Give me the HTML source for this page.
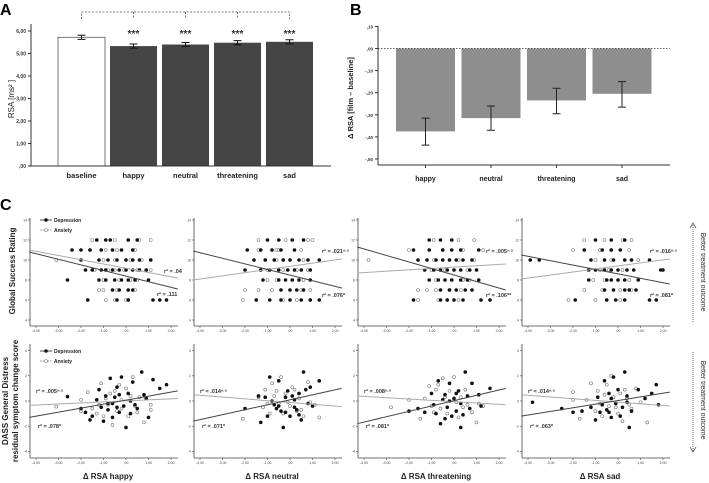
<!DOCTYPE html>
<html><head><meta charset="utf-8"><style>
body{margin:0;background:#fff}
svg{display:block;font-family:"Liberation Sans",Arial,sans-serif}
</style></head><body>
<svg id="fig" width="709" height="483" viewBox="0 0 709 483" xmlns="http://www.w3.org/2000/svg">
<g id="pa"></g>
<g id="pb"></g>
<g id="pc"></g>
</svg>
<script>
// Panel A data
const aCats=["baseline","happy","neutral","threatening","sad"];
const aVals=[5.72,5.33,5.40,5.48,5.52];
const aErr=[0.09,0.09,0.09,0.09,0.09];
const aTicks=[0,1,2,3,4,5,6];
const aTickLabels=[",00","1,00","2,00","3,00","4,00","5,00","6,00"];
// Panel B data
const bCats=["happy","neutral","threatening","sad"];
const bVals=[-0.375,-0.315,-0.235,-0.205];
const bErrLo=[-0.437,-0.37,-0.295,-0.265];
const bErrHi=[-0.315,-0.26,-0.18,-0.15];
const bTicks=[0.1,0,-0.1,-0.2,-0.3,-0.4,-0.5];
const bTickLabels=[",10",",00","-,10","-,20","-,30","-,40","-,50"];
// Panel C data
const cNames=["happy","neutral","threatening","sad"];
const cXTicks=[-4,-3,-2,-1,0,1,2];
const cXTickLabels=["-4,00","-3,00","-2,00","-1,00",",00","1,00","2,00"];
const topYTicks=[4,6,8,10,12,14];
const botYTicks=[-4,-2,0,2,4];
const topDep=[
 [[12,[-0.9,-0.7,-1.3,0.1,0.5]],[11,[-2.4,-2.0,-1.6,-1.1,-0.6,-0.2,0.3]],[10,[-2.0,-1.2,-0.8,-0.4,0,0.3,0.6,1.1]],[9,[-1.8,-1.5,-1.1,-0.9,-0.6,-0.3,0,0.3,0.6,0.9]],[8,[-2.6,-1.2,-0.9,-0.5,-0.2,0.1,0.4,1.0]],[7,[-0.6,-0.3,0.1,0.3]],[6,[-1.7,-0.4,0.1,1.2,1.5,1.8]]],
 [[12,[-1.0,-0.5,0.1,0.6]],[11,[-1.9,-1.3,-0.8,-0.4,0.2]],[10,[-1.6,-1.1,-0.7,-0.3,0,0.4,0.8,1.3]],[9,[-2.0,-1.3,-0.9,-0.5,-0.1,0.2,0.5,0.9]],[8,[-1.2,-0.5,-0.2,0.1,0.4,0.9]],[7,[-0.4,0,0.3,0.6]],[6,[-1.5,-0.9,-0.4,0,0.5,0.9,1.3]]],
 [[12,[-1.1,-0.6,-0.1]],[11,[-1.8,-1.1,-0.5,-0.1,0.3,1.1]],[10,[-1.6,-1.2,-0.8,-0.5,-0.2,0.1,0.4,0.8]],[9,[-1.3,-0.9,-0.6,-0.3,0,0.3,0.7,1.0]],[8,[-1.1,-0.7,-0.4,-0.1,0.3,0.6,1.1]],[7,[-0.6,-0.2,0.1,0.5,0.8]],[6,[-1.8,-0.6,-0.3,0,0.4,1.2,1.6]]],
 [[12,[-1.0,-0.3,0.3]],[11,[-1.5,-0.7,-0.3,0.1]],[10,[-3.9,-3.5,-1.2,-0.6,-0.2,0.3,0.6,1.4]],[9,[-1.3,-1.0,-0.6,-0.3,0,0.4,0.7,1.9,2.0]],[8,[-1.3,-0.5,-0.3,0,0.3,0.9]],[7,[-0.6,-0.2,0.3,0.5,0.8]],[6,[-1.9,-0.5,-0.1,0.3,1.4,1.7]]]
];
const topAnx=[
 [[12,[-1.5,-0.5,0.6,1.1]],[11,[-1.6,-0.9,-0.4,0.4]],[10,[-3.1,-1.0,-0.5,0.2,0.7,1.1]],[9,[-1.4,-0.8,-0.5,-0.1,0.5,1.1]],[8,[-1.0,-0.3,0.2,0.5]],[7,[-1.2,-1.0,-0.4,0.4]],[6,[-0.9,-0.5,0.0]]],
 [[12,[-1.4,-0.2,0.8,1.0]],[11,[-1.4,-0.6,-0.5,0.5]],[10,[-1.1,-0.6,-0.3,0.6]],[9,[-1.0,-0.3,0.3,0.8]],[8,[-1.0,-0.6,0.6]],[7,[-2.0,-1.4,-0.8,0.5,0.9]],[6,[-2.1,-0.3,0.3,0.9]]],
 [[12,[-0.9,0.2,0.9]],[11,[-2.0,-0.5,0.4,1.3]],[10,[-3.8,-0.9,0.2,0.9]],[9,[-1.0,-0.4,0.6]],[8,[-0.8,0.4,0.7]],[7,[-1.6,-1.2,-0.8,-0.2,0.3]],[6,[-1.6,-0.7,-0.3,0.2]]],
 [[12,[-1.5,-0.6,0.2,0.6]],[11,[-2.0,-0.8,-0.3,0.5]],[10,[-1.0,-0.3,0.6,0.9]],[9,[-0.8,-0.4,0.2]],[8,[-1.1,-0.6,0.5]],[7,[-1.5,-0.7,0.1,0.6]],[6,[-2.2,-1.0,-0.5,0.1]]]
];
const botDep=[
 [[-2.6,0.35],[-2.0,-0.6],[-1.8,-0.9],[-1.6,-1.5],[-1.5,-1.2],[-1.1,-0.5],[-1.0,-1.6],[-0.9,0.4],[-0.8,-0.7],[-0.7,1.8],[-0.6,-0.2],[-0.5,0.3],[-0.4,1.1],[-0.3,-0.9],[-0.2,1.9],[-0.1,-0.4],[0,-2.1],[0.1,0.6],[0.2,-1.0],[0.3,1.5],[0.4,-0.3],[0.7,2.3],[0.9,0.2],[1.0,-1.3],[1.2,1.7],[1.5,1.0],[1.8,1.3],[-1.2,0.9],[-0.8,-0.2],[-0.3,0.5],[0.2,0.0],[0.5,-0.6],[-0.6,-1.3],[-1.3,0.1],[0.8,0.5],[-0.4,-0.5]],
 [[-2.0,-0.6],[-1.3,-1.7],[-1.0,-1.2],[-0.9,1.9],[-0.7,-0.3],[-0.5,1.6],[-0.4,-0.8],[-0.3,-2.1],[-0.2,0.3],[0,-1.2],[0.1,0.4],[0.3,-0.7],[0.4,-1.1],[0.5,-1.5],[0.6,2.3],[0.7,0.9],[0.9,1.1],[1.0,-0.4],[1.3,1.6],[-1.4,0.4],[-0.8,0.0],[-0.6,-0.6],[-0.1,0.8],[0.2,0.1],[0.4,0.6],[0.8,-0.2],[-0.5,-0.4],[-1.1,0.3],[0.2,-0.5],[-0.2,-0.9]],
 [[-2.0,-0.8],[-1.6,-0.6],[-1.3,-0.9],[-1.0,0.6],[-0.8,-1.0],[-0.7,1.6],[-0.6,-1.8],[-0.4,0.5],[-0.3,-0.5],[-0.2,1.4],[-0.1,-1.2],[0,0.2],[0.1,-0.8],[0.2,0.8],[0.3,-2.1],[0.4,-1.1],[0.5,2.3],[0.6,0.4],[0.8,1.4],[1.1,0.5],[1.2,-0.4],[1.6,1.0],[-0.9,-0.3],[-0.5,0.1],[0.1,0.6],[0.3,-0.2],[-0.4,-1.4],[0.7,-0.6],[-0.2,0.0]],
 [[-3.8,-0.1],[-2.5,-0.6],[-2.0,-0.9],[-1.6,-0.8],[-1.2,-0.5],[-1.0,-1.5],[-0.8,-0.9],[-0.6,1.6],[-0.5,-0.7],[-0.4,0.6],[-0.3,-1.3],[-0.2,1.9],[-0.1,-0.2],[0,0.9],[0.1,-1.2],[0.3,2.3],[0.4,0.4],[0.5,-2.1],[0.6,-0.8],[0.9,0.9],[1.2,0.2],[1.5,0.6],[1.7,1.3],[1.8,-0.3],[-0.7,-0.3],[-0.3,0.2],[0.2,-0.5],[-0.9,0.3],[0.4,-0.1],[-0.4,-0.9]]
];
const botAnx=[
 [[-3.1,-0.45],[-2.0,0.1],[-2.0,-0.8],[-1.7,0.7],[-1.2,-0.3],[-1.1,1.4],[-1.0,-1.2],[-0.9,0.2],[-0.8,-0.3],[-0.6,-1.9],[-0.5,0.8],[-0.3,1.3],[-0.2,-0.6],[0,1.0],[0.1,-1.2],[0.3,1.9],[0.4,-0.4],[0.6,0.3],[0.8,-1.7],[1.1,-0.3],[1.1,-0.7],[-1.5,-0.6],[-0.7,0.6],[-0.4,-0.8],[0.2,0.4],[-1.3,-1.0],[0.5,-0.9],[-0.2,0.1]],
 [[-2.1,-1.4],[-1.4,0.3],[-1.2,-0.5],[-1.1,0.9],[-0.9,-1.0],[-0.8,1.4],[-0.6,0.8],[-0.5,-0.2],[-0.4,1.9],[-0.3,-1.0],[-0.2,0.6],[0,-0.4],[0.1,1.1],[0.3,-0.8],[0.4,0.2],[0.6,-1.2],[0.8,1.5],[0.9,-0.1],[1.1,-0.3],[1.3,-1.3],[-0.7,0.4],[-0.1,-0.1],[0.5,-0.7],[-1.0,-0.2],[0.2,0.9]],
 [[-2.8,-0.5],[-2.0,0.1],[-1.5,-1.4],[-1.3,0.2],[-1.1,1.2],[-1.0,-0.4],[-0.8,0.9],[-0.6,-0.6],[-0.5,1.8],[-0.3,-1.0],[-0.2,0.8],[0,1.9],[0.1,-0.1],[0.2,-1.3],[0.3,0.3],[0.5,0.9],[0.6,-0.3],[0.8,-0.9],[1.0,-1.7],[1.1,-0.2],[1.3,-0.4],[-0.9,-0.9],[-0.4,0.3],[0.4,-0.5],[-0.7,1.3]],
 [[-2.0,0.7],[-2.0,0.1],[-1.7,-1.4],[-1.4,0.1],[-1.2,1.4],[-1.0,-0.8],[-0.9,0.8],[-0.7,-1.2],[-0.5,1.3],[-0.4,-0.4],[-0.3,2.0],[-0.2,0.3],[0,-1.0],[0.1,0.6],[0.2,-1.6],[0.4,0.2],[0.6,-0.6],[0.8,1.0],[1.0,-0.1],[1.3,-1.7],[-0.6,0.5],[-0.1,-0.5],[0.3,0.9],[-0.8,-0.2],[0.5,-0.3]]
];
const topDepLine=[[10.8,7.1],[10.9,7.2],[11.3,7.0],[10.5,7.6]];
const topAnxLine=[[11.0,8.2],[8.0,10.1],[8.7,9.6],[8.1,10.1]];
const botDepLine=[[-1.3,0.8],[-1.6,1.0],[-1.8,1.0],[-1.2,0.7]];
const botAnxLine=[[-0.35,0.2],[0.5,-0.45],[0.4,-0.3],[0.5,-0.4]];
const topR2=[["r² = .04","r² = .111"],["r² = .021ⁿ·ˢ","r² = .076*"],["r² = .005ⁿ·ˢ","r² = .106**"],["r² = .016ⁿ·ˢ","r² = .081*"]];
const botR2=[["r² = .005ⁿ·ˢ","r² = .078*"],["r² = .014ⁿ·ˢ","r² = .071*"],["r² = .008ⁿ·ˢ","r² = .081*"],["r² = .014ⁿ·ˢ","r² = .063*"]];

const NS="http://www.w3.org/2000/svg";
function mk(parent,tag,attrs,txt){const e=document.createElementNS(NS,tag);for(const k in attrs)e.setAttribute(k,attrs[k]);if(txt!==undefined)e.textContent=txt;parent.appendChild(e);return e;}

const pa=document.getElementById('pa');
const aY=v=>166-v*22.5;
let t=mk(pa,'text',{x:0,y:15,'font-size':16,'font-weight':'bold'},'A');

aTicks.forEach((v,i)=>{mk(pa,'line',{x1:28,x2:31,y1:aY(v),y2:aY(v),stroke:'#333'});
 const l=mk(pa,'text',{x:26,y:aY(v)+2,'font-size':5,'text-anchor':'end','font-weight':'bold',fill:'#333'},aTickLabels[i]);
 });
t=mk(pa,'text',{transform:'translate(14,99) rotate(-90)','font-size':8,'text-anchor':'middle',fill:'#222'},'RSA [ms² ]');

const aX0=58,aStep=52,aW=47;
aCats.forEach((c,i)=>{const x=aX0+i*aStep;
 const r=mk(pa,'rect',{x:x,y:aY(aVals[i]),width:aW,height:aY(0)-aY(aVals[i]),fill:i==0?'#fff':'#454545',stroke:i==0?'#555':'none','stroke-width':0.8});
 
 const cx=x+aW/2,hi=aY(aVals[i]+aErr[i]),lo=aY(aVals[i]-aErr[i]);
 const eg=mk(pa,'path',{d:`M${cx-4},${hi}H${cx+4}M${cx},${hi}V${lo}M${cx-4},${lo}H${cx+4}`,stroke:'#111','stroke-width':1,fill:'none'});
 
 const l=mk(pa,'text',{x:cx,y:178,'font-size':7.5,'font-weight':'bold','text-anchor':'middle',fill:'#222'},c);
 
 if(i>0){const s=mk(pa,'text',{x:cx,y:37,'font-size':10,'font-weight':'bold','text-anchor':'middle',fill:'#333'},'***');
  }
});
mk(pa,'line',{x1:31,x2:31,y1:24,y2:166,stroke:'#333','stroke-width':1});
mk(pa,'line',{x1:31,x2:331,y1:166,y2:166,stroke:'#333','stroke-width':1});
let bd='M'+(aX0+aW/2)+',19V12H'+(aX0+4*aStep+aW/2)+'V19';
for(let i=1;i<4;i++){const cx=aX0+i*aStep+aW/2;bd+=`M${cx},12V19`;}
t=mk(pa,'path',{d:bd,stroke:'#555','stroke-dasharray':'2,1.5',fill:'none','stroke-width':0.8});


const pb=document.getElementById('pb');
const bY=v=>48.5-v*221;
t=mk(pb,'text',{x:350,y:15,'font-size':16,'font-weight':'bold'},'B');

bTicks.forEach((v,i)=>{mk(pb,'line',{x1:375,x2:378,y1:bY(v),y2:bY(v),stroke:'#333'});
 const l=mk(pb,'text',{x:373,y:bY(v)+2,'font-size':4.5,'text-anchor':'end','font-weight':'bold',fill:'#333'},bTickLabels[i]);
 });
t=mk(pb,'text',{transform:'translate(353,98) rotate(-90)','font-size':7.5,'font-weight':'bold','text-anchor':'middle',fill:'#222'},'Δ RSA [film – baseline]');

const bX0=396,bStep=65.5,bW=59;
bCats.forEach((c,i)=>{const x=bX0+i*bStep;
 const r=mk(pb,'rect',{x:x,y:bY(0),width:bW,height:bY(bVals[i])-bY(0),fill:'#8e8e8e'});
 
 const cx=x+bW/2,hi=bY(bErrHi[i]),lo=bY(bErrLo[i]);
 const eg=mk(pb,'path',{d:`M${cx-4},${hi}H${cx+4}M${cx},${hi}V${lo}M${cx-4},${lo}H${cx+4}`,stroke:'#222','stroke-width':1,fill:'none'});
 
 mk(pb,'line',{x1:cx,x2:cx,y1:165,y2:168,stroke:'#333'});
 const l=mk(pb,'text',{x:cx,y:181,'font-size':7,'font-weight':'bold','text-anchor':'middle',fill:'#222'},c);
 
});
mk(pb,'line',{x1:378,x2:378,y1:26,y2:165,stroke:'#333'});
mk(pb,'line',{x1:378,x2:670,y1:165,y2:165,stroke:'#333'});
t=mk(pb,'line',{x1:378,x2:670,y1:bY(0),y2:bY(0),stroke:'#333','stroke-dasharray':'1.5,1.5','stroke-width':0.8});


const pc=document.getElementById('pc');
t=mk(pc,'text',{x:0,y:210,'font-size':16,'font-weight':'bold'},'C');

const axX=[30,194,358,522];
const tY=v=>260-(v-10)*10, bYs=v=>401-v*12.6;
function dot(g,x,y,filled){const d=mk(g,'circle',{cx:x,cy:y,r:1.5,fill:filled?'#111':'#fff',stroke:filled?'#111':'#777','stroke-width':0.6});return d;}
cNames.forEach((nm,p)=>{
 const ax=axX[p], X=v=>ax+6+(v+4)*22.5;
 [['top',tY,topYTicks,218,326],['bot',bYs,botYTicks,344,458]].forEach(([row,Y,yt,ytop,ybot])=>{
  const g=mk(pc,'g',{});
  
  mk(g,'line',{x1:ax,x2:ax,y1:ytop,y2:ybot,stroke:'#444','stroke-width':0.8});
  mk(g,'line',{x1:ax,x2:ax+148,y1:ybot,y2:ybot,stroke:'#444','stroke-width':0.8});
  yt.forEach(v=>{mk(g,'line',{x1:ax-2,x2:ax,y1:Y(v),y2:Y(v),stroke:'#444','stroke-width':0.6});
   const l=mk(g,'text',{x:ax-3,y:Y(v)+1.3,'font-size':3.5,'text-anchor':'end',fill:'#444'},String(v));
   });
  cXTicks.forEach((v,i)=>{mk(g,'line',{x1:X(v),x2:X(v),y1:ybot,y2:ybot+2,stroke:'#444','stroke-width':0.6});
   const l=mk(g,'text',{x:X(v),y:ybot+6,'font-size':3.5,'text-anchor':'middle',fill:'#444'},cXTickLabels[i]);
   });
  if(row==='top'){
   topAnx[p].forEach(([yv,xs])=>xs.forEach(xv=>{const d=dot(g,X(xv),Y(yv),false);}));
   topDep[p].forEach(([yv,xs])=>xs.forEach(xv=>{const d=dot(g,X(xv),Y(yv),true);}));
  } else {
   botAnx[p].forEach(([xv,yv])=>{const d=dot(g,X(xv),Y(yv),false);});
   botDep[p].forEach(([xv,yv])=>{const d=dot(g,X(xv),Y(yv),true);});
  }
  const dl=row==='top'?topDepLine[p]:botDepLine[p], al=row==='top'?topAnxLine[p]:botAnxLine[p];
  let L=mk(g,'line',{x1:X(-4.3),x2:X(2.3),y1:Y(al[0]),y2:Y(al[1]),stroke:'#aaa','stroke-width':1});
  
  L=mk(g,'line',{x1:X(-4.3),x2:X(2.3),y1:Y(dl[0]),y2:Y(dl[1]),stroke:'#444','stroke-width':1});
  
  const r2=row==='top'?topR2[p]:botR2[p];
  const pos=row==='top'?[[ax+128,253],[ax+128,297]]:[[ax+6,393],[ax+8,428]];
  if(row==='top'&&p==0){pos[0]=[ax+134,273];pos[1]=[ax+127,296];}
  r2.forEach((s,i)=>{const l=mk(g,'text',{x:pos[i][0],y:pos[i][1],'font-size':5.5,'font-weight':'bold',fill:'#333'},s);
   });
 });
 const xl=mk(pc,'text',{x:ax+78,y:479,'font-size':8,'font-weight':'bold','text-anchor':'middle',fill:'#222'},'Δ RSA '+nm);
 
});
[[220],[351]].forEach(([y])=>{
 const g=mk(pc,'g',{});
 mk(g,'line',{x1:40,x2:52,y1:y,y2:y,stroke:'#222','stroke-width':0.8});dot(g,46,y,true);
 mk(g,'text',{x:54,y:y+1.8,'font-size':5,'font-weight':'bold',fill:'#222'},'Depression');
 mk(g,'line',{x1:40,x2:52,y1:y+10,y2:y+10,stroke:'#777','stroke-width':0.8,'stroke-dasharray':'1.5,1'});dot(g,46,y+10,false);
 mk(g,'text',{x:54,y:y+11.8,'font-size':5,'font-weight':'bold',fill:'#222'},'Anxiety');
});
t=mk(pc,'text',{transform:'translate(15,271) rotate(-90)','font-size':8,'font-weight':'bold','text-anchor':'middle',fill:'#222'},'Global Success Rating');

t=mk(pc,'text',{transform:'translate(8,401) rotate(-90)','font-size':8,'font-weight':'bold','text-anchor':'middle',fill:'#222'},'DASS General Distress');

t=mk(pc,'text',{transform:'translate(18,401) rotate(-90)','font-size':8,'font-weight':'bold','text-anchor':'middle',fill:'#222'},'residual symptom change score');

t=mk(pc,'line',{x1:693,x2:693,y1:225,y2:322,stroke:'#555','stroke-width':0.8,'stroke-dasharray':'1,1'});

t=mk(pc,'path',{d:'M690,228L693,223L696,228',stroke:'#555','stroke-width':0.8,fill:'none'});

t=mk(pc,'line',{x1:693,x2:693,y1:352,y2:451,stroke:'#555','stroke-width':0.8,'stroke-dasharray':'1,1'});

t=mk(pc,'path',{d:'M690,447L693,452L696,447',stroke:'#555','stroke-width':0.8,fill:'none'});

t=mk(pc,'text',{transform:'translate(701,272) rotate(90)','font-size':7,'text-anchor':'middle',fill:'#333'},'Better treatment outcome');

t=mk(pc,'text',{transform:'translate(701,400) rotate(90)','font-size':7,'text-anchor':'middle',fill:'#333'},'Better treatment outcome');

</script>
</body></html>
